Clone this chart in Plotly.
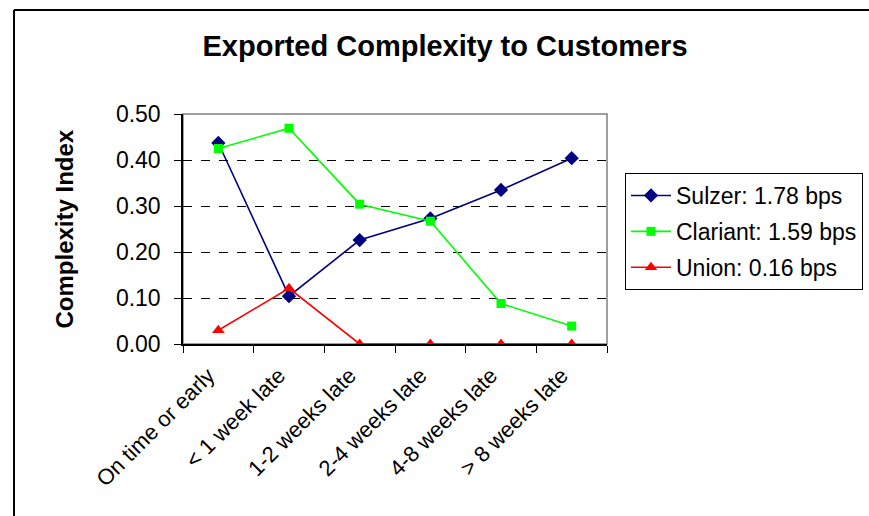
import plotly.graph_objects as go

categories = ["On time or early", "< 1 week late", "1-2 weeks late",
              "2-4 weeks late", "4-8 weeks late", "> 8 weeks late"]
sulzer = [0.437, 0.104, 0.226, 0.273, 0.335, 0.404]
clariant = [0.425, 0.469, 0.304, 0.267, 0.088, 0.039]
union = [0.030, 0.121, 0.0, 0.0, 0.0, 0.0]
series_names = ["Sulzer: 1.78 bps", "Clariant: 1.59 bps", "Union: 0.16 bps"]
y_ticks = [0.0, 0.1, 0.2, 0.3, 0.4, 0.5]

FONT = "Liberation Sans, Arial, sans-serif"

fig = go.Figure()
styles = [
    (sulzer, "#000080", "diamond", 11),
    (clariant, "#00FF00", "square", 9),
    (union, "#FF0000", "triangle-up", 11),
]
for name, (vals, color, sym, size) in zip(series_names, styles):
    fig.add_trace(go.Scatter(
        x=categories, y=vals, name=name, mode="lines+markers",
        line=dict(color=color, width=1.6),
        marker=dict(symbol=sym, size=size, color=color),
        legendgroup=name,
    ))

L, R, T, B = 183, 262, 114, 172
W, H = 869, 516
pw, ph = W - L - R, H - T - B

def px_x(px):
    return (px - L) / pw

def px_y(py):
    return (H - B - py) / ph

fig.update_layout(
    width=W, height=H,
    margin=dict(l=L, r=R, t=T, b=B, autoexpand=False),
    paper_bgcolor="white", plot_bgcolor="white",
    font=dict(family=FONT, color="black"),
    title=dict(text="<b>Exported Complexity to Customers</b>",
               x=445 / W, xanchor="center", y=1 - 46 / H, yanchor="middle",
               font=dict(size=29, family=FONT, color="black")),
    showlegend=True,
    legend=dict(xref="container", yref="container",
                x=625 / W, y=1 - 173 / H, xanchor="left", yanchor="top",
                bordercolor="black", borderwidth=1, bgcolor="white",
                font=dict(size=23, family=FONT), tracegroupgap=3,
                traceorder="grouped", itemwidth=40),
    xaxis=dict(type="category", showgrid=False, showline=True,
               linecolor="black", linewidth=2, ticks="outside",
               tickson="boundaries", ticklen=7, tickcolor="black",
               tickangle=-45, tickfont=dict(size=22, family=FONT),
               ticklabelstandoff=8, ticklabelshift=-10,
               range=[-0.5, 5.5], automargin=False),
    yaxis=dict(range=[0, 0.5], tickvals=y_ticks, tickformat=".2f",
               showgrid=True, gridcolor="black", griddash="dash",
               gridwidth=1, zeroline=False, showline=True,
               linecolor="black", linewidth=1.5, ticks="outside",
               ticklen=7, tickcolor="black", ticklabelstandoff=9,
               tickfont=dict(size=23, family=FONT), automargin=False),
    annotations=[dict(text="<b>Complexity Index</b>", xref="paper", yref="paper",
                      x=px_x(48), y=0.5, textangle=-90, showarrow=False,
                      font=dict(size=24, family=FONT, color="black"))],
    shapes=[
        dict(type="rect", xref="paper", yref="paper", x0=0, x1=1, y0=0, y1=1,
             line=dict(color="#808080", width=1.5), layer="below"),
        dict(type="line", xref="paper", yref="paper", x0=px_x(14), x1=px_x(14),
             y0=px_y(520), y1=px_y(10), line=dict(color="black", width=2)),
        dict(type="line", xref="paper", yref="paper", x0=px_x(14), x1=px_x(875),
             y0=px_y(10), y1=px_y(10), line=dict(color="black", width=2)),
    ],
)

fig.write_html("out.html")
